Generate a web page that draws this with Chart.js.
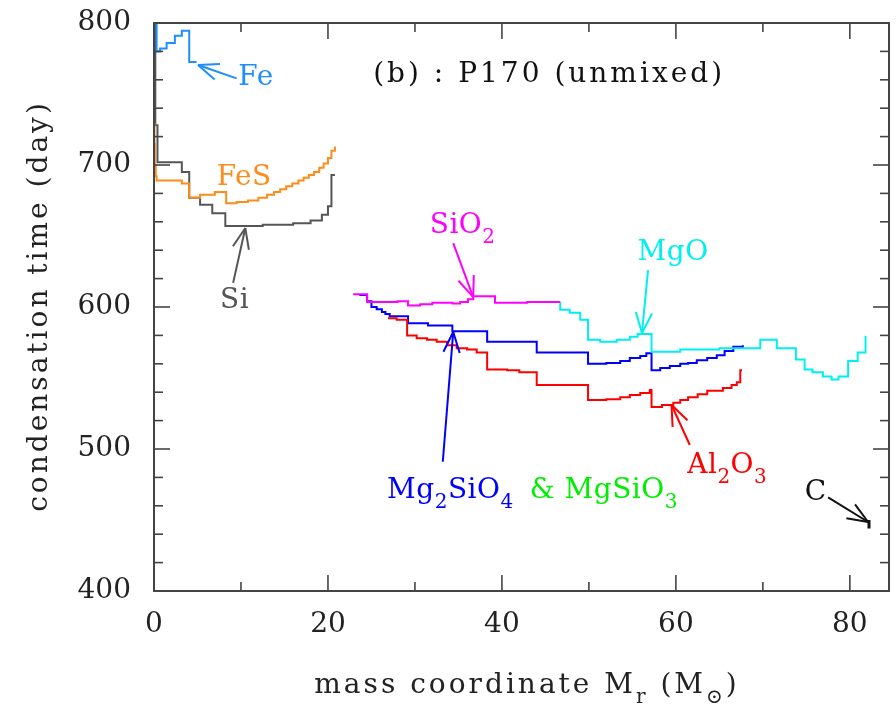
<!DOCTYPE html>
<html>
<head>
<meta charset="utf-8">
<script src="https://cdn.jsdelivr.net/npm/chart.js@4.4.1/dist/chart.umd.min.js"></script>
<style>
html, body { margin: 0; padding: 0; background: #fff; }
canvas { display: block; }
</style>
</head>
<body>
<canvas id="chart" width="896" height="705"></canvas>
<script>
// condensation time vs mass coordinate (step histograms)
const feX = [0.3, 0.3, 0.7, 1.45, 2.4, 3.2, 4.05, 4.9];
const feY = [800, 780, 782, 786, 791, 794.5, 772.5, 772.5];

const fesX = [0, 0.05, 0.1, 0.2, 0.3, 3.2, 4.05, 5.3, 7.0, 8.3, 9.5, 10.8, 12.0, 13.0, 13.8, 14.5, 15.2, 15.9, 16.6, 17.2, 17.8, 18.4, 19.0, 19.5, 20.0, 20.4, 20.8];
const fesY = [729, 715, 700, 692, 689, 687, 677, 679, 681, 673, 674, 675, 677, 679, 681, 683, 685, 687, 689, 691, 693, 695, 698, 701, 705, 710, 713];

const siX = [0, 0.15, 0.4, 3.2, 4.05, 5.3, 6.7, 8.2, 12.5, 16.0, 18.0, 19.3, 20.0, 20.4, 20.8];
const siY = [800, 728, 702, 695, 677, 672, 666, 657, 658, 659, 661, 665, 671, 693, 693];

const sio2X = [22.9, 24.5, 28.0, 29.2, 30.6, 32.0, 34.3, 35.2, 36.1, 36.7, 39.2, 42.9, 46.7];
const sio2Y = [609, 603.5, 604, 601, 602, 603, 602.5, 603.5, 605.5, 607.5, 603, 603.5, 603.5];

const mgoX = [46.7, 46.7, 47.8, 49.0, 49.9, 51.3, 53.2, 54.7, 55.6, 57.2, 60.5, 65.0, 69.7, 71.6, 73.8, 74.8, 75.7, 76.9, 77.9, 78.7, 79.8, 80.9, 81.8, 81.9];
const mgoY = [603.5, 598, 596, 591, 577, 575.5, 577, 579, 581, 568.5, 570, 571, 577, 571, 563, 556, 554, 551, 549, 551, 562, 568, 579, 579];

const mg2sio4X = [23.6, 24.5, 25.0, 25.6, 26.2, 26.6, 27.1, 29.2, 31.5, 34.3, 38.3, 44.0, 49.9, 52.0, 53.6, 54.7, 55.9, 56.6, 57.2, 58.2, 59.3, 60.5, 61.4, 62.4, 63.6, 64.7, 65.6, 66.6, 67.7];
const mg2sio4Y = [608.5, 604, 600, 598.5, 596.5, 595, 593.5, 588.5, 587, 583, 575.5, 568, 560, 560.5, 562, 564, 565.5, 567.5, 555.5, 557, 558.5, 560, 560.5, 562.5, 564, 566, 569, 572, 573];

const al2o3X = [26.9, 27.9, 29.1, 30.2, 31.4, 32.5, 33.7, 34.8, 36.0, 37.1, 38.3, 40.6, 42.0, 44.0, 49.9, 52.0, 53.6, 54.7, 55.9, 57.0, 57.2, 58.4, 59.7, 60.5, 61.4, 62.5, 63.6, 65.4, 66.4, 67.0, 67.4, 67.6];
const al2o3Y = [592, 591, 580, 578, 577, 575.5, 573, 571, 570, 568, 556, 555.5, 554, 545, 534.5, 535, 536.5, 538, 539.5, 541.5, 529.5, 531, 532.5, 534.5, 536.5, 538.5, 541, 543, 545, 547, 555.5, 555.5];

const cX = [82.2, 82.2];
const cY = [450, 444];

const xMajor = [0, 20, 40, 60, 80];
const xMinor = [10, 30, 50, 70];
const yMajor = [400, 500, 600, 700, 800];
const yMinor = [420, 440, 460, 480, 520, 540, 560, 580, 620, 640, 660, 680, 720, 740, 760, 780];

const FE = '#1f8fff', FES = '#ff8c1a', SI = '#555555', SIO2 = '#ff00ff', MGO = '#00f0f0',
      MG2 = '#0000ff', AL = '#ff0000', GREEN = '#00ee00', BLACK = '#111111';
const FONT = '"DejaVu Serif", serif';

// text labels (left edge, baseline in data units)
const notes = [
  {parts: [['Fe']], x: 9.7, y: 756.3, color: FE},
  {parts: [['FeS']], x: 7.2, y: 685.9, color: FES},
  {parts: [['Si']], x: 7.6, y: 599.3, color: SI},
  {parts: [['SiO'], ['2', 1]], x: 31.7, y: 652.1, color: SIO2},
  {parts: [['MgO']], x: 55.6, y: 633.1, color: MGO},
  {parts: [['Mg'], ['2', 1], ['SiO'], ['4', 1]], x: 26.8, y: 465.8, color: MG2},
  {parts: [['& MgSiO'], ['3', 1]], x: 43.2, y: 465.8, color: GREEN},
  {parts: [['Al'], ['2', 1], ['O'], ['3', 1]], x: 61.3, y: 483.1, color: AL},
  {parts: [['C']], x: 74.8, y: 464.1, color: BLACK},
  {parts: [['(b) : P170 (unmixed)']], x: 25.2, y: 758.5, color: BLACK, spacing: 3}
];

const arrows = [
  {from: [9.5, 761], to: [5.06, 770.4], color: FE},
  {from: [9.1, 617], to: [10.5, 655.6], color: SI},
  {from: [34.4, 645], to: [36.7, 607], color: SIO2},
  {from: [56.8, 626], to: [56.1, 581.7], color: MGO},
  {from: [33.2, 491], to: [34.4, 582.4], color: MG2},
  {from: [61.6, 502.8], to: [59.5, 531], color: AL},
  {from: [77.5, 466], to: [82.1, 448.6], color: BLACK}
];

function toPts(xs, ys) {
  return xs.map((x, i) => ({x: x, y: ys[i]}));
}

function series(label, xs, ys, color, width) {
  return {
    label: label,
    data: toPts(xs, ys),
    borderColor: color,
    borderWidth: width || 2,
    stepped: true,
    pointRadius: 0,
    fill: false
  };
}

function drawRich(ctx, x, y, parts, color, size) {
  ctx.fillStyle = color;
  ctx.textBaseline = 'alphabetic';
  ctx.textAlign = 'left';
  let cx = x;
  parts.forEach(p => {
    const sub = p[1];
    ctx.font = (sub ? Math.round(size * 0.72) : size) + 'px ' + FONT;
    ctx.fillText(p[0], cx, y + (sub ? size * 0.36 : 0));
    cx += ctx.measureText(p[0]).width;
  });
  return cx - x;
}

function richWidth(ctx, parts, size) {
  let w = 0;
  parts.forEach(p => {
    ctx.font = (p[1] ? Math.round(size * 0.72) : size) + 'px ' + FONT;
    w += ctx.measureText(p[0]).width;
  });
  return w;
}

const decor = {
  id: 'decor',
  afterDatasetsDraw(chart) {
    const ctx = chart.ctx;
    const a = chart.chartArea;
    const xs = chart.scales.x, ys = chart.scales.y;
    const seg = (x1, y1, x2, y2) => { ctx.beginPath(); ctx.moveTo(x1, y1); ctx.lineTo(x2, y2); ctx.stroke(); };

    ctx.save();
    // frame with inward ticks on all sides
    ctx.strokeStyle = '#444';
    ctx.lineWidth = 2;
    ctx.strokeRect(a.left, a.top, a.right - a.left, a.bottom - a.top);
    ctx.lineWidth = 1.6;
    xMajor.forEach(v => { const p = xs.getPixelForValue(v); seg(p, a.bottom, p, a.bottom - 16); seg(p, a.top, p, a.top + 16); });
    xMinor.forEach(v => { const p = xs.getPixelForValue(v); seg(p, a.bottom, p, a.bottom - 9); seg(p, a.top, p, a.top + 9); });
    yMajor.forEach(v => { const p = ys.getPixelForValue(v); seg(a.left, p, a.left + 16, p); seg(a.right, p, a.right - 16, p); });
    yMinor.forEach(v => { const p = ys.getPixelForValue(v); seg(a.left, p, a.left + 9, p); seg(a.right, p, a.right - 9, p); });

    // arrows
    ctx.lineWidth = 2;
    arrows.forEach(ar => {
      const x1 = xs.getPixelForValue(ar.from[0]), y1 = ys.getPixelForValue(ar.from[1]);
      const x2 = xs.getPixelForValue(ar.to[0]), y2 = ys.getPixelForValue(ar.to[1]);
      const ang = Math.atan2(y2 - y1, x2 - x1);
      ctx.strokeStyle = ar.color;
      seg(x1, y1, x2, y2);
      [-0.38, 0.38].forEach(d => {
        seg(x2, y2, x2 - 22 * Math.cos(ang + d), y2 - 22 * Math.sin(ang + d));
      });
    });

    // labels
    notes.forEach(n => {
      ctx.letterSpacing = (n.spacing || 0.5) + 'px';
      drawRich(ctx, xs.getPixelForValue(n.x), ys.getPixelForValue(n.y), n.parts, n.color, 28);
    });

    // axis titles
    ctx.letterSpacing = '3px';
    const xt = [['mass coordinate M'], ['r', 1], [' (M'], ['\u2299', 1], [')']];
    const w = richWidth(ctx, xt, 28);
    drawRich(ctx, 527 - w / 2, a.bottom + 102, xt, '#222', 28);

    ctx.translate(47, (a.top + a.bottom) / 2 - 1);
    ctx.rotate(-Math.PI / 2);
    ctx.font = '28px ' + FONT;
    ctx.fillStyle = '#222';
    ctx.textAlign = 'center';
    ctx.textBaseline = 'alphabetic';
    ctx.fillText('condensation time (day)', 0, 0);
    ctx.restore();
  }
};

new Chart(document.getElementById('chart'), {
  type: 'line',
  data: {
    datasets: [
      series('Fe', feX, feY, FE),
      series('FeS', fesX, fesY, FES),
      series('Si', siX, siY, SI),
      series('SiO2', sio2X, sio2Y, SIO2),
      series('MgO', mgoX, mgoY, MGO),
      series('Al2O3', al2o3X, al2o3Y, AL),
      series('Mg2SiO4', mg2sio4X, mg2sio4Y, MG2),
      series('C', cX, cY, BLACK, 3)
    ]
  },
  options: {
    responsive: false,
    animation: false,
    layout: {padding: {top: 23, right: 7, left: 0, bottom: 0}},
    plugins: {legend: {display: false}, tooltip: {enabled: false}},
    scales: {
      x: {
        type: 'linear', min: 0, max: 84.5,
        grid: {display: false, drawTicks: false},
        border: {display: false},
        ticks: {stepSize: 20, includeBounds: false, padding: 17, maxRotation: 0, color: '#222', font: {family: FONT, size: 28}},
        afterFit: s => { s.height = 114; s.paddingLeft = 0; s.paddingRight = 0; }
      },
      y: {
        type: 'linear', min: 400, max: 800,
        grid: {display: false, drawTicks: false},
        border: {display: false},
        ticks: {stepSize: 100, includeBounds: false, padding: 23, color: '#222', font: {family: FONT, size: 28}},
        afterFit: s => { s.width = 154; s.paddingTop = 0; s.paddingBottom = 0; }
      }
    }
  },
  plugins: [decor]
});
</script>
</body>
</html>
